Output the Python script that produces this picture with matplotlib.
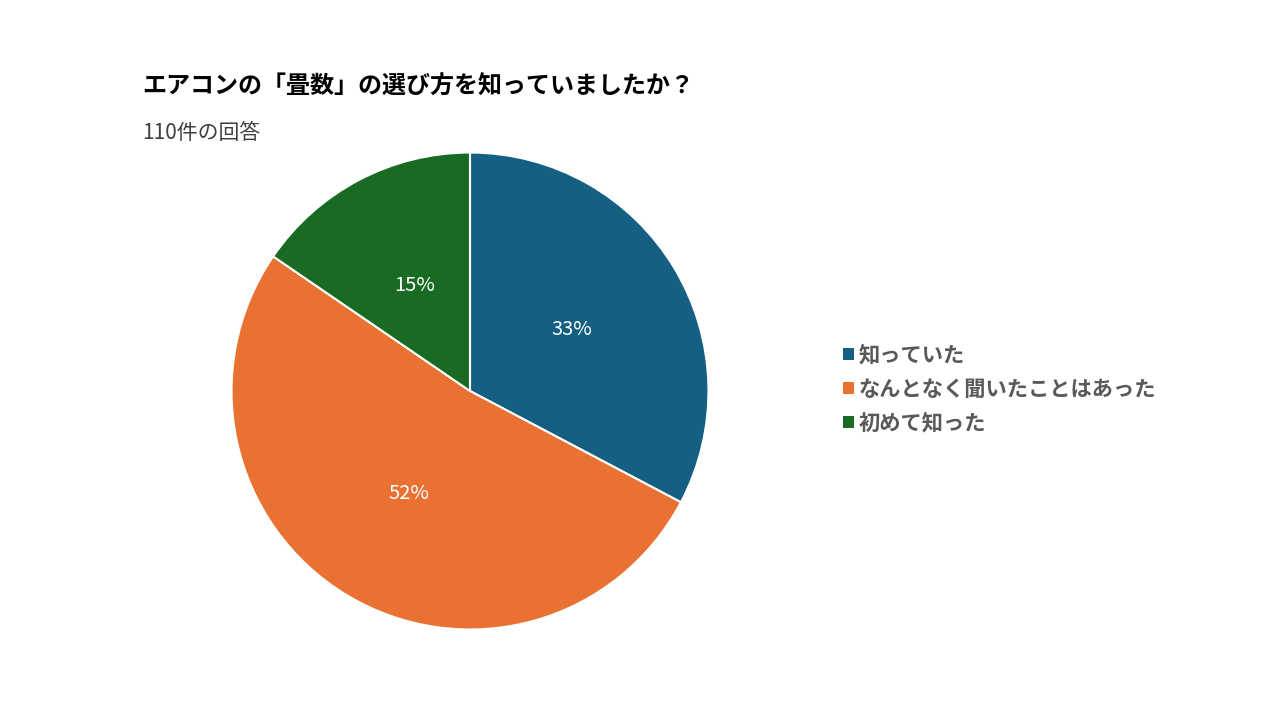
import matplotlib
matplotlib.use("Agg")
import matplotlib.pyplot as plt
from matplotlib.patches import Patch

plt.rcParams['font.family'] = ['Noto Sans CJK JP', 'DejaVu Sans']

labels = ["知っていた", "なんとなく聞いたことはあった", "初めて知った"]
counts = [36, 57, 17]
colors = ["#156082", "#E97132", "#196B24"]

fig = plt.figure(figsize=(12.8, 7.2), dpi=100)
ax = fig.add_axes([232 / 1280, 91 / 720, 476 / 1280, 476 / 720])

wedges, texts, autotexts = ax.pie(
    counts, colors=colors, startangle=90, counterclock=False,
    autopct="%1.0f%%", pctdistance=0.5,
    wedgeprops=dict(edgecolor="white", linewidth=1.5),
    textprops=dict(color="white", fontsize=14.5),
)
ax.set_xlim(-0.998, 0.998)
ax.set_ylim(-0.998, 0.998)
ax.set_aspect("equal")

fig.text(142 / 1280, 1 - 87 / 720, "エアコンの「畳数」の選び方を知っていましたか？",
         fontsize=17.3, fontweight="bold", color="black", va="center")
fig.text(142 / 1280, 1 - 133 / 720, "110件の回答",
         fontsize=15, color="#404040", va="center")

handles = [Patch(facecolor=c, edgecolor="none") for c in colors]
leg = fig.legend(handles, labels, loc="center left", bbox_to_anchor=(824 / 1280, 1 - 389 / 720),
                 frameon=False, handlelength=0.5, handleheight=0.5, handletextpad=0.25,
                 labelspacing=0.62, prop=dict(size=15.3, weight="bold"))
for t in leg.get_texts():
    t.set_color("#595959")

fig.savefig("out.png", dpi=100)
